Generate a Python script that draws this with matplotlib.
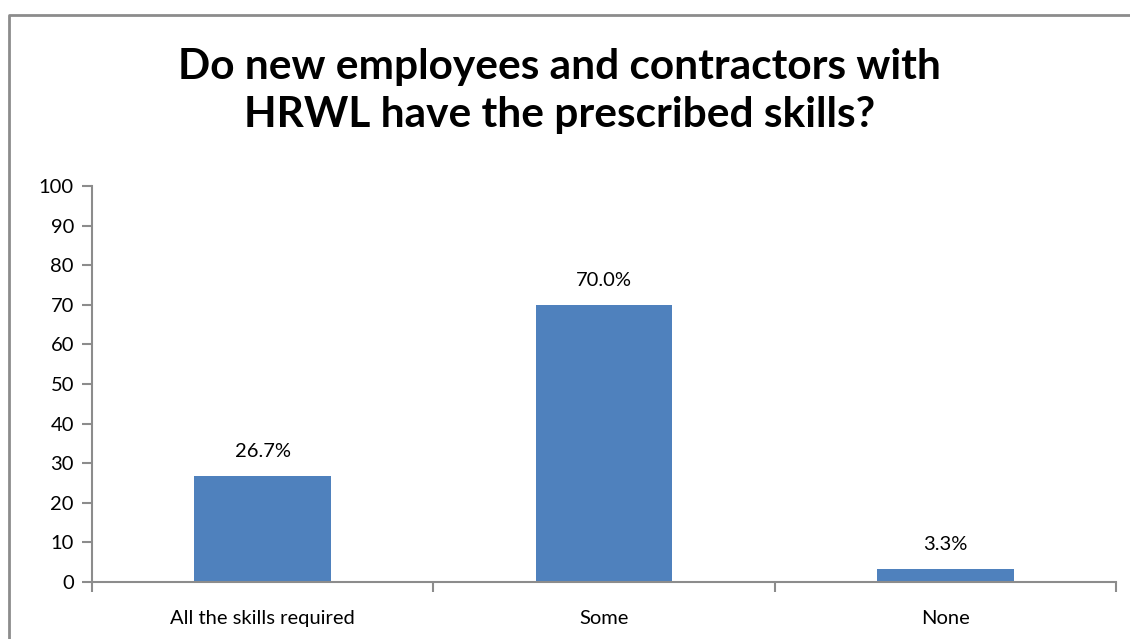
import matplotlib.pyplot as plt
import numpy as np
from matplotlib.lines import Line2D

plt.rcParams['font.family'] = ['Lato', 'DejaVu Sans']

categories = ['All the skills required', 'Some', 'None']
values = [26.7, 70.0, 3.3]
labels = ['26.7%', '70.0%', '3.3%']

W, H = 1130, 639
fig = plt.figure(figsize=(W / 100, H / 100), dpi=100)

# chart frame, open on the right and bottom
fig.add_artist(Line2D([9 / W, 9 / W, 1.0], [0.0, 1 - 15 / H, 1 - 15 / H],
                      transform=fig.transFigure, color='#8c8c8c', lw=2))

ax = fig.add_axes([92 / W, 1 - 582 / H, (1116 - 92) / W, (582 - 186) / H])

x = np.arange(len(categories))
ax.bar(x, values, width=0.4, color='#4f81bd')
for xi, v, t in zip(x, values, labels):
    ax.text(xi, v + 4, t, ha='center', va='bottom', fontsize=14.5, color='#000000')

ax.set_xlim(-0.5, len(categories) - 0.5)
ax.set_ylim(0, 100)
ax.set_yticks(np.arange(0, 101, 10))
ax.set_xticks(x)
ax.set_xticklabels(categories, fontsize=14.5)
ax.set_xticks(np.arange(-0.5, len(categories), 1), minor=True)
ax.tick_params(axis='x', which='major', length=0, pad=20)
ax.tick_params(axis='x', which='minor', length=7, width=1.5, color='#8c8c8c')
ax.tick_params(axis='y', length=7, width=1.5, color='#8c8c8c', labelsize=14.5, pad=6)

for s in ['top', 'right']:
    ax.spines[s].set_visible(False)
for s in ['left', 'bottom']:
    ax.spines[s].set_color('#8c8c8c')
    ax.spines[s].set_linewidth(1.5)

fig.text(0.495, 1 - 91 / H, 'Do new employees and contractors with\nHRWL have the prescribed skills?',
         ha='center', va='center', fontsize=30.5, fontweight='bold', linespacing=1.35)

fig.savefig('out.png', dpi=100)
